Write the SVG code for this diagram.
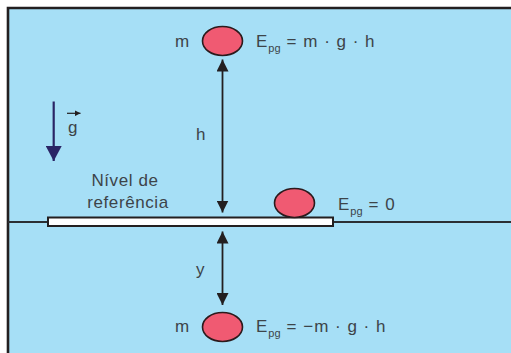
<svg xmlns="http://www.w3.org/2000/svg" width="511" height="353" viewBox="0 0 511 353">
<style>
.t{font-family:"Liberation Sans",Arial,sans-serif;font-size:17px;letter-spacing:0.6px;fill:#3d4449}
.e{letter-spacing:1px}
.s{font-size:11px;letter-spacing:0}
.ball{fill:#f05a72;stroke:#2b1a1c;stroke-width:1.6}
.ln{stroke:#231f20;stroke-width:1.8;fill:none}
</style>
<defs>
<marker id="ah" viewBox="0 0 13 12" refX="12" refY="6" markerWidth="13" markerHeight="12" markerUnits="userSpaceOnUse" orient="auto">
<path d="M0,0 L12,6 L0,12 z" fill="#231f20"/>
</marker>
<marker id="gh" viewBox="0 0 16 16" refX="15" refY="8" markerWidth="16" markerHeight="16" markerUnits="userSpaceOnUse" orient="auto">
<path d="M0,0 L15,8 L0,16 z" fill="#2a2566"/>
</marker>
<marker id="vh" viewBox="0 0 6 6" refX="6" refY="3" markerWidth="6" markerHeight="6" markerUnits="userSpaceOnUse" orient="auto">
<path d="M0,0 L6,3 L0,6 z" fill="#231f20"/>
</marker>
</defs>
<rect x="0" y="0" width="511" height="353" fill="#ffffff"/>
<rect x="8" y="8" width="503" height="345" fill="#a6dff6"/>
<path d="M8,353 V8 H511" fill="none" stroke="#231f20" stroke-width="2.6"/>
<line x1="8" y1="222" x2="511" y2="222" stroke="#2b2f33" stroke-width="2"/>

<g id="board">
<rect x="48" y="217.5" width="285" height="8.5" fill="#ffffff" stroke="#231f20" stroke-width="2"/>
</g>

<g id="connectors">
<line class="ln" x1="222.5" y1="140" x2="222.5" y2="59.5" marker-end="url(#ah)"/>
<line class="ln" x1="222.5" y1="140" x2="222.5" y2="212.5" marker-end="url(#ah)"/>
<line class="ln" x1="222.5" y1="268" x2="222.5" y2="231.5" marker-end="url(#ah)"/>
<line class="ln" x1="222.5" y1="268" x2="222.5" y2="305" marker-end="url(#ah)"/>
<line x1="53.7" y1="101.5" x2="53.7" y2="161" stroke="#2a2566" stroke-width="2.2" marker-end="url(#gh)"/>
<line x1="67" y1="113.3" x2="80.5" y2="113.3" stroke="#231f20" stroke-width="1.2" marker-end="url(#vh)"/>
</g>

<g id="ball-top">
<ellipse class="ball" cx="222.5" cy="41" rx="20" ry="14.5"/>
<text class="t" x="175" y="46.5">m</text>
<text class="t e" x="256" y="46.5">E<tspan class="s" dx="0" dy="5">pg</tspan><tspan dx="6" dy="-5">= m · g · h</tspan></text>
</g>

<g id="ball-middle">
<ellipse class="ball" cx="294.5" cy="203" rx="20" ry="14.5"/>
<text class="t e" x="338" y="209.5">E<tspan class="s" dx="0" dy="5">pg</tspan><tspan dx="6" dy="-5">= 0</tspan></text>
</g>

<g id="ball-bottom">
<ellipse class="ball" cx="222.5" cy="327" rx="20" ry="14.5"/>
<text class="t" x="175" y="332">m</text>
<text class="t e" x="256" y="332">E<tspan class="s" dx="0" dy="5">pg</tspan><tspan dx="6" dy="-5">= −m · g · h</tspan></text>
</g>

<g id="labels">
<text class="t" x="125" y="186" text-anchor="middle">Nível de</text>
<text class="t" x="128" y="208" text-anchor="middle">referência</text>
<text class="t" x="196" y="140">h</text>
<text class="t" x="196" y="275">y</text>
<text class="t" x="68" y="133">g</text>
</g>
</svg>
